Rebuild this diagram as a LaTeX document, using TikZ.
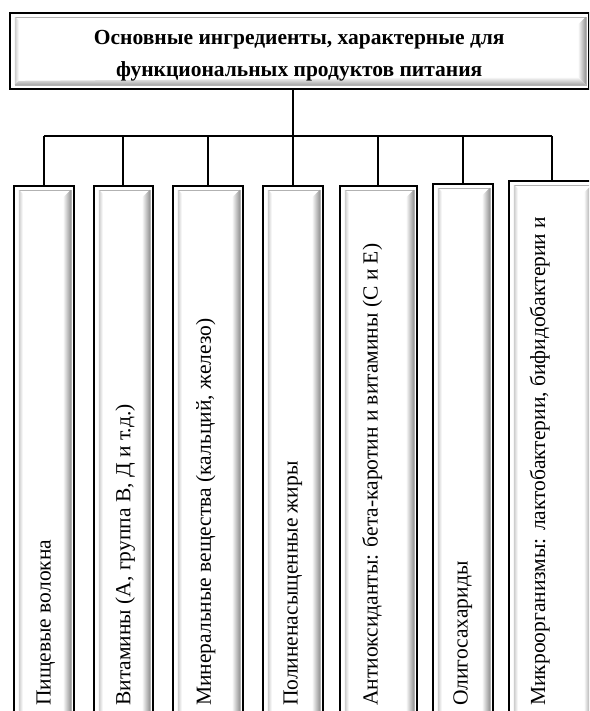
\documentclass[tikz,border=0pt]{standalone}
\usepackage{fontspec}
\setmainfont{Liberation Serif}
\usetikzlibrary{calc}

\begin{document}
\begin{tikzpicture}[x=1pt, y=-1pt,
    panel/.style={draw, line width=1.6pt, fill=white, inner sep=0pt, anchor=north west,
      path picture={
        \coordinate (pa) at ([shift={(5pt,4pt)}]path picture bounding box.south west);
        \coordinate (pb) at ([shift={(-3pt,-4pt)}]path picture bounding box.north east);
        \coordinate (pc) at (pb |- pa);
        \coordinate (pd) at (pa |- pb);
        \draw[gray!60, line width=0.5pt] (pa) rectangle (pb);
        \shade[left color=gray!40, right color=white] (pa) -- (pd) -- ([shift={(4pt,-4pt)}]pd) -- ([shift={(4pt,4pt)}]pa) -- cycle;
        \shade[left color=white, right color=gray!85] (pb) -- ([shift={(-8pt,-8pt)}]pb) -- ([shift={(-8pt,8pt)}]pc) -- (pc) -- cycle;
        \shade[top color=white, bottom color=gray!70] (pa) -- ([shift={(4pt,4pt)}]pa) -- ([shift={(-8pt,8pt)}]pc) -- (pc) -- cycle;
      }},
    lbl/.style={rotate=90, anchor=west, inner sep=0pt, font=\fontsize{21.5}{25}\selectfont},
    link/.style={line width=1.8pt}]
    \useasboundingbox (0,0) rectangle (589,711);
    \clip (0,0) rectangle (589,711);

    \node[panel, minimum width=579pt, minimum height=76pt] (main) at (9,12) {};
    \node[align=center, font=\fontsize{21.5}{32}\selectfont\bfseries] (maintext)
      at ([yshift=-5pt]main.center)
      {Основные ингредиенты, характерные для\\функциональных продуктов питания};

    \node[panel, minimum width=60pt, minimum height=560pt] (fibre) at (13,185) {};
    \node[panel, minimum width=59pt, minimum height=560pt] (vitamins) at (93,185) {};
    \node[panel, minimum width=70pt, minimum height=560pt] (minerals) at (172,185) {};
    \node[panel, minimum width=60pt, minimum height=560pt] (pufa) at (262,185) {};
    \node[panel, minimum width=77pt, minimum height=560pt] (antiox) at (339,185) {};
    \node[panel, minimum width=60pt, minimum height=560pt] (oligo) at (432,183) {};
    \node[panel, minimum width=86pt, minimum height=560pt] (micro) at (508,180) {};

    \coordinate (base) at (0,706);
    \node[lbl] at ($(fibre.center |- base)+(2,0)$) {Пищевые волокна};
    \node[lbl] at ($(vitamins.center |- base)+(2,0)$) {Витамины (А, группа В, Д и т.д.)};
    \node[lbl] at ($(minerals.center |- base)+(-2,0)$) {Минеральные вещества (кальций, железо)};
    \node[lbl] at (pufa.center |- base) {Полиненасыщенные жиры};
    \node[lbl] at ($(antiox.center |- base)+(-6,0)$) {Антиоксиданты: бета-каротин и витамины (С и Е)};
    \node[lbl] at (oligo.center |- base) {Олигосахариды};
    \node[lbl] at ($(micro.center |- base)+(-12,0)$) {Микроорганизмы: лактобактерии, бифидобактерии и};

    \coordinate (bus) at (0,136);
    \draw[link] (main.south -| pufa.north) -- (pufa.north |- bus);
    \draw[link] (fibre.north |- bus) -- (micro.north |- bus);
    \foreach \n in {fibre,vitamins,minerals,pufa,antiox,oligo,micro}
      \draw[link] (\n.north |- bus) -- (\n.north);
\end{tikzpicture}
\end{document}
